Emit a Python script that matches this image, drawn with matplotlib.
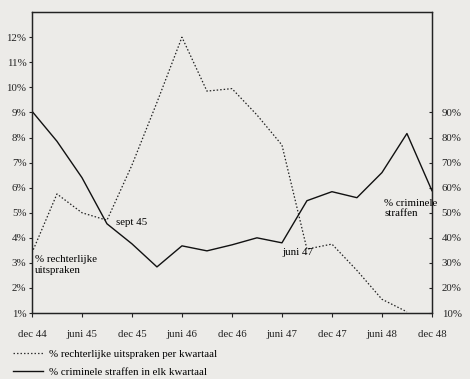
import numpy as np
import matplotlib.pyplot as plt
from matplotlib.lines import Line2D

plt.rcParams['font.family'] = ['Liberation Serif', 'DejaVu Serif']

# quarters since dec 44
xlabels = ["dec 44", "juni 45", "dec 45", "juni 46", "dec 46",
           "juni 47", "dec 47", "juni 48", "dec 48"]

# % rechterlijke uitspraken per kwartaal (left axis)
uitspraken_q = [0, 1, 2, 3, 4, 5, 6, 7, 8, 9, 10, 11, 12, 13, 14, 15]
uitspraken = [3.4, 5.75, 5.0, 4.7, 6.9, 9.4, 12.0, 9.85, 9.95, 8.9, 7.7,
              3.55, 3.75, 2.7, 1.55, 1.05]

# % criminele straffen in elk kwartaal (right axis)
straffen_q = list(range(17))
straffen = [90.5, 78.5, 64.0, 45.6, 37.6, 28.4, 36.8, 34.8, 37.2, 40.0,
            38.0, 54.8, 58.4, 56.0, 66.0, 81.6, 58.8]

fs = 7.8
bg = '#ecebe8'
fig = plt.figure(figsize=(4.7, 3.79), dpi=100, facecolor=bg)
ax = fig.add_axes([0.068, 0.174, 0.851, 0.794], facecolor=bg)
ax2 = ax.twinx()

ax.plot(uitspraken_q, uitspraken, color='#222222', lw=0.9, ls=(0, (1.2, 1.6)))
ax2.plot(straffen_q, straffen, color='#111111', lw=1.0)

ax.set_xlim(0, 16)
ax.set_ylim(1, 13)
ax2.set_ylim(10, 130)

ax.set_xticks(range(0, 17, 2))
ax.set_xticklabels(xlabels, fontsize=fs)
ax.set_yticks(range(1, 13))
ax.set_yticklabels([f"{v}%" for v in range(1, 13)], fontsize=fs)
ax2.set_yticks(range(10, 100, 10))
ax2.set_yticklabels([f"{v}%" for v in range(10, 100, 10)], fontsize=fs)

ax.tick_params(axis='x', direction='out', length=3, width=0.8, pad=9, colors='#222222')
ax.tick_params(axis='y', direction='out', length=2, width=0.8, pad=2, colors='#222222')
ax2.tick_params(axis='y', direction='in', length=2, width=0.8, pad=7, colors='#222222')
for a in (ax, ax2):
    for s in a.spines.values():
        s.set_linewidth(0.9)
        s.set_color('#222222')

ax.text(3.35, 4.6, "sept 45", fontsize=fs, va='center', ha='left')
ax.text(0.12, 3.3, "% rechterlijke\nuitspraken", fontsize=fs, va='top', ha='left',
        linespacing=1.3)
ax.text(10.0, 3.4, "juni 47", fontsize=fs, va='center', ha='left')
ax2.text(14.1, 55.5, "% criminele\nstraffen", fontsize=fs, va='top', ha='left',
         linespacing=1.2)

fig.legend(handles=[Line2D([], [], color='#333333', lw=0.9, ls=(0, (1.2, 1.6))),
                    Line2D([], [], color='#111111', lw=1.0)],
           labels=["% rechterlijke uitspraken per kwartaal",
                   "% criminele straffen in elk kwartaal"],
           loc='upper left', bbox_to_anchor=(0.028, 0.078), frameon=False,
           fontsize=fs, handlelength=2.8, handletextpad=0.5, labelspacing=0.75,
           borderpad=0, borderaxespad=0)

fig.savefig("out.png", dpi=100, facecolor=bg)
